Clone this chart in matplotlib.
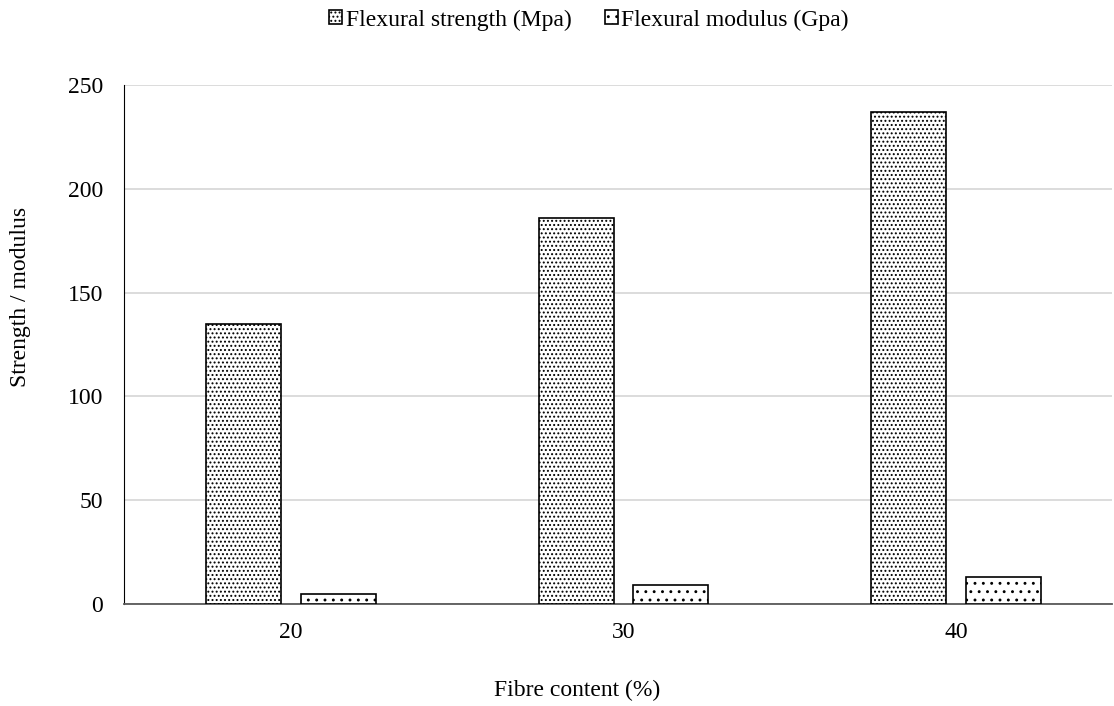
import matplotlib.pyplot as plt
import numpy as np

plt.rcParams['font.family'] = ['Liberation Serif', 'DejaVu Serif']
plt.rcParams['hatch.linewidth'] = 0.9

# data
fibre_content = ['20', '30', '40']
flex_strength = [135, 186, 237]
flex_modulus = [5, 9, 13]

fig = plt.figure(figsize=(11.14, 7.06), dpi=100)
ax = fig.add_axes([124 / 1114, 1 - 604 / 706, 988 / 1114, 519 / 706])

x = np.arange(len(fibre_content))
w = 0.2256
off = 0.142
ax.bar(x - off, flex_strength, w, color='white', edgecolor='black', linewidth=1.2,
       hatch='....', label='Flexural strength (Mpa)', zorder=3)
ax.bar(x + off, flex_modulus, w, color='white', edgecolor='black', linewidth=1.2,
       hatch='..', label='Flexural modulus (Gpa)', zorder=3)

ax.set_xlim(-0.502, 2.469)
ax.set_ylim(0, 250)
ax.set_yticks(range(0, 251, 50))
ax.set_xticks(x)
ax.set_xticklabels(fibre_content)
ax.tick_params(axis='both', length=0, labelsize=17)
ax.tick_params(axis='y', pad=15)
ax.tick_params(axis='x', pad=13)

ax.grid(axis='y', color='#d9d9d9', linewidth=1.3, zorder=0)
ax.spines['top'].set_visible(False)
ax.spines['right'].set_visible(False)
ax.spines['left'].set_color('black')
ax.spines['bottom'].set_color('#595959')
ax.spines['bottom'].set_linewidth(1.3)

fig.text(577 / 1114, 1 - 690 / 706, 'Fibre content (%)', fontsize=17,
         ha='center', va='center')
fig.text(21 / 1114, 1 - 297 / 706, 'Strength / modulus', fontsize=17,
         ha='center', va='center', rotation=90)

fig.legend(loc='center left', bbox_to_anchor=(308 / 1114, 1 - 20 / 706), ncol=2, frameon=False,
           fontsize=17, handlelength=0.55, handleheight=0.55, handletextpad=0.15,
           columnspacing=1.4)

fig.savefig('out.png', dpi=100)
